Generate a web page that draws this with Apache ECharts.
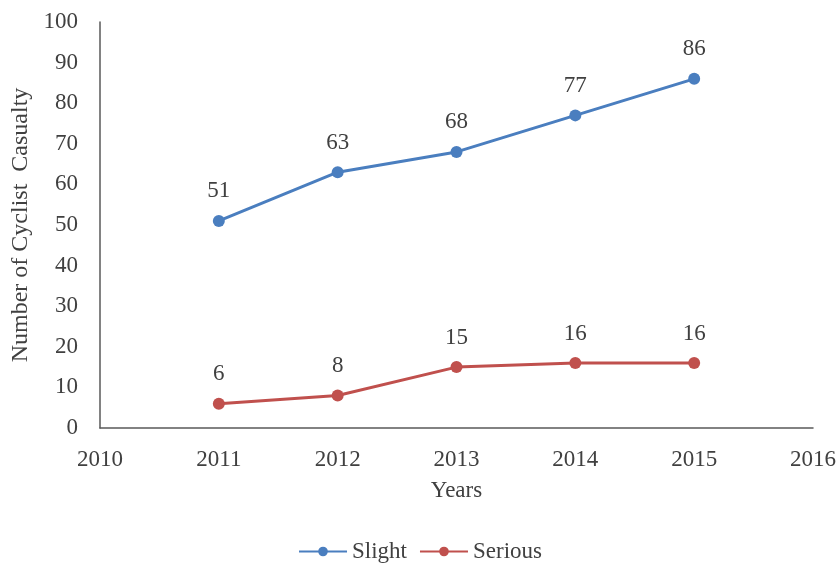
<!DOCTYPE html>
<html>
<head>
<meta charset="utf-8">
<script src="https://cdn.jsdelivr.net/npm/echarts@6/dist/echarts.min.js"></script>
<style>
  html, body { margin: 0; padding: 0; background: #fff; }
  #chart { width: 840px; height: 566px; }
</style>
</head>
<body>
<div id="chart"></div>
<script>
// Cyclist casualties by year
const years = [2011, 2012, 2013, 2014, 2015];
const slight = [51, 63, 68, 77, 86];
const serious = [6, 8, 15, 16, 16];

const FONT = '"Liberation Serif", "Times New Roman", serif';
const TEXT = '#404040';
const SIZE = 23;

function pairs(xs, ys) { return xs.map((x, i) => [x, ys[i]]); }

function lineSeries(name, values, color) {
  return {
    name: name,
    type: 'line',
    data: pairs(years, values),
    symbol: 'circle',
    symbolSize: 12,
    lineStyle: { width: 3, color: color },
    itemStyle: { color: color },
    label: {
      show: true,
      position: 'top',
      distance: 12,
      fontFamily: FONT,
      fontSize: SIZE,
      color: TEXT,
      formatter: p => String(p.value[1])
    }
  };
}

const chart = echarts.init(document.getElementById('chart'));
chart.setOption({
  animation: false,
  backgroundColor: '#fff',
  grid: { left: 100, right: 27, top: 22, bottom: 138 },
  xAxis: {
    type: 'value',
    min: 2010,
    max: 2016,
    interval: 1,
    name: 'Years',
    nameLocation: 'middle',
    nameGap: 51,
    nameTextStyle: { fontFamily: FONT, fontSize: SIZE, color: TEXT },
    axisLine: { lineStyle: { color: '#595959', width: 1.5 } },
    axisTick: { show: false },
    splitLine: { show: false },
    axisLabel: {
      fontFamily: FONT, fontSize: SIZE, color: TEXT, margin: 20,
      formatter: v => String(v)
    }
  },
  yAxis: {
    type: 'value',
    min: 0,
    max: 100,
    interval: 10,
    name: 'Number of Cyclist  Casualty',
    nameLocation: 'middle',
    nameGap: 66,
    nameTextStyle: { fontFamily: FONT, fontSize: 24, color: TEXT },
    axisLine: { show: true, lineStyle: { color: '#595959', width: 1.5 } },
    axisTick: { show: false },
    splitLine: { show: false },
    axisLabel: { fontFamily: FONT, fontSize: SIZE, color: TEXT, margin: 22 }
  },
  legend: {
    bottom: -2,
    left: 'center',
    itemWidth: 48,
    itemHeight: 12,
    itemGap: 12,
    textStyle: { fontFamily: FONT, fontSize: SIZE, color: TEXT },
    data: ['Slight', 'Serious']
  },
  series: [
    lineSeries('Slight', slight, '#4a7ebf'),
    lineSeries('Serious', serious, '#c0504d')
  ]
});
</script>
</body>
</html>
